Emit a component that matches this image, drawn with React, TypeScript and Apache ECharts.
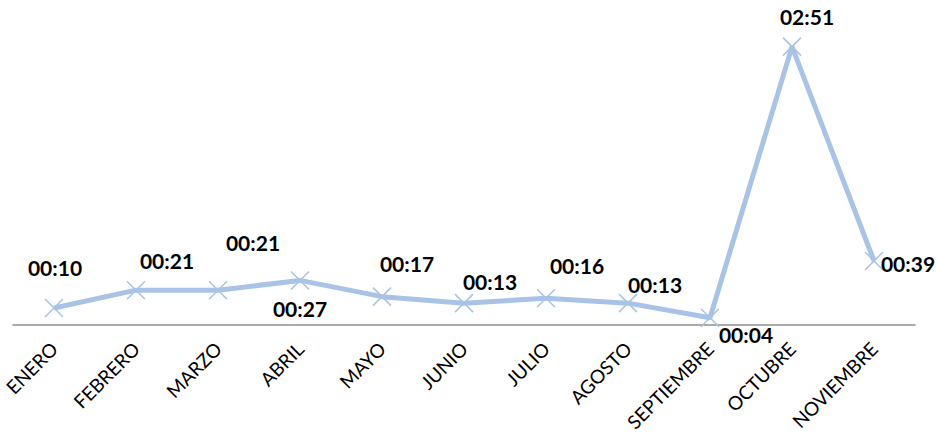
import React, { useEffect, useRef } from "react";
import * as echarts from "echarts";

const months = ["ENERO", "FEBRERO", "MARZO", "ABRIL", "MAYO", "JUNIO", "JULIO", "AGOSTO", "SEPTIEMBRE", "OCTUBRE", "NOVIEMBRE"];
// durations in seconds
const durations = [10, 21, 21, 27, 17, 13, 16, 13, 4, 171, 39];
// label offsets (px) relative to each point
const labelOffsets = [[1, -41], [31, -30], [35, -48], [0, 28], [25, -33], [26, -22], [31, -33], [27, -19], [36, 17], [15, -30], [34, 3]];

const LINE = "#a8c3e5";

function fmt(s: number) {
  const m = Math.floor(s / 60);
  const r = s % 60;
  return String(m).padStart(2, "0") + ":" + String(r).padStart(2, "0");
}

export default function App() {
  const ref = useRef<HTMLDivElement>(null);
  useEffect(() => {
    if (!ref.current) return;
    const chart = echarts.init(ref.current, null, { renderer: "svg" });
    chart.setOption({
      animation: false,
      grid: { left: 13, right: 23, top: 32, bottom: 108 },
      xAxis: {
        type: "category",
        data: months,
        boundaryGap: true,
        axisLine: { lineStyle: { color: "#8e8e8e", width: 1.5 } },
        axisTick: { show: false },
        axisLabel: {
          rotate: 45,
          margin: 21,
          fontFamily: "Lato",
          fontSize: 19,
          color: "#000",
          interval: 0,
        },
      },
      yAxis: {
        type: "value",
        min: 0,
        max: 180,
        show: false,
        splitLine: { show: false },
      },
      series: [
        {
          type: "line",
          data: durations.map((v, i) => ({
            value: v,
            label: {
              show: true,
              position: "inside",
              offset: labelOffsets[i],
            },
          })),
          lineStyle: { color: LINE, width: 5 },
          symbol: "path://M0,0L10,10M10,0L0,10",
          symbolSize: 18,
          itemStyle: { color: "none", borderColor: LINE, borderWidth: 1.5 },
          label: {
            show: true,
            formatter: (p: any) => fmt(p.value),
            fontFamily: "Lato",
            fontWeight: "bold",
            fontSize: 21,
            color: "#000",
            align: "center",
            verticalAlign: "middle",
          },
          emphasis: { disabled: true },
        },
      ],
    });
    return () => chart.dispose();
  }, []);
  return <div ref={ref} style={{ position: "absolute", left: 0, top: 0, width: 938, height: 434 }} />;
}
